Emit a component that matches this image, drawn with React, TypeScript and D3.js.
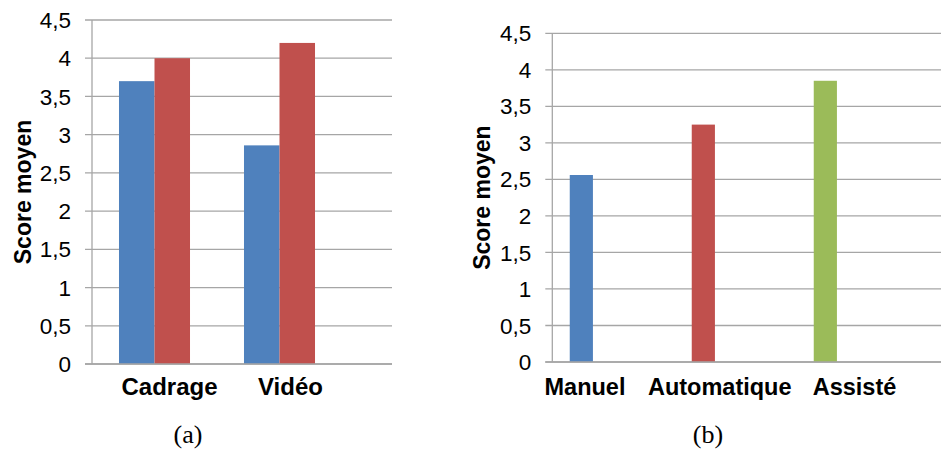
import React from "react";
import * as d3 from "d3";

const catsA = ["Cadrage", "Vidéo"];
const seriesA = ["s1", "s2"];
const valsA1 = [3.7, 2.86];
const valsA2 = [4.0, 4.2];
const colorsA = ["#4F81BD", "#C0504D"];

const catsB = ["Manuel", "Automatique", "Assisté"];
const valsB = [2.56, 3.25, 3.85];
const colorsB = ["#4F81BD", "#C0504D", "#9BBB59"];

const yTicks = [0, 0.5, 1, 1.5, 2, 2.5, 3, 3.5, 4, 4.5];
const yTickLabels = ["0", "0,5", "1", "1,5", "2", "2,5", "3", "3,5", "4", "4,5"];
const yTitle = "Score moyen";
const captions = ["(a)", "(b)"];

const GRID = "#A6A6A6";
const SANS = "'Liberation Sans', Arial, sans-serif";
const SERIF = "'Liberation Serif', 'DejaVu Serif', serif";

function YAxis({ y, x0, x1 }: { y: d3.ScaleLinear<number, number>; x0: number; x1: number }) {
  return (
    <g>
      {yTicks.map((t, i) => (
        <g key={i}>
          <line x1={x0 - 7} x2={x1} y1={y(t)} y2={y(t)} stroke={GRID} strokeWidth={1.3} />
          <text
            x={x0 - 21}
            y={y(t)}
            dy="0.36em"
            textAnchor="end"
            fontFamily={SANS}
            fontSize={22.5}
            fill="#000"
          >
            {yTickLabels[i]}
          </text>
        </g>
      ))}
      <line x1={x0} x2={x0} y1={y(4.5)} y2={y(0)} stroke={GRID} strokeWidth={1.3} />
    </g>
  );
}

export default function App() {
  // Chart (a)
  const yA = d3.scaleLinear().domain([0, 4.5]).range([364, 20]);
  const xA = d3.scaleBand<string>().domain(catsA).range([92, 342]).padding(0);
  const xA1 = d3.scaleBand<string>().domain(seriesA).range([0, xA.bandwidth()]).paddingOuter(0.76).paddingInner(0);
  const labA = d3.scalePoint<string>().domain(catsA).range([169.5, 290.5]);
  const valsA = [valsA1, valsA2];

  // Chart (b)
  const yB = d3.scaleLinear().domain([0, 4.5]).range([362, 33.3]);
  const xB = d3.scaleBand<string>().domain(catsB).range([552.3, 918.3]).padding(0);
  const labB = d3.scalePoint<string>().domain(catsB).range([585, 854.5]);
  const barOff = xB.bandwidth() * 0.143;
  const barW = xB.bandwidth() * 0.19;

  return (
    <svg width={941} height={451} style={{ position: "absolute", left: 0, top: 0, background: "#fff" }}>
      <rect width={941} height={451} fill="#fff" />
      {/* Chart (a) */}
      <YAxis y={yA} x0={92} x1={392} />
      {seriesA.map((s, si) =>
        catsA.map((c, ci) => (
          <rect
            key={s + c}
            x={(xA(c) as number) + (xA1(s) as number)}
            y={yA(valsA[si][ci])}
            width={xA1.bandwidth()}
            height={yA(0) - yA(valsA[si][ci])}
            fill={colorsA[si]}
          />
        ))
      )}
      <line x1={92 - 7} x2={392} y1={yA(0)} y2={yA(0)} stroke={GRID} strokeWidth={1.3} />
      {catsA.map((c) => (
        <text key={c} x={labA(c)} y={395} textAnchor="middle" fontFamily={SANS} fontWeight="bold" fontSize={24} fill="#000">
          {c}
        </text>
      ))}
      <text
        transform={`translate(31,${(yA(0) + yA(4.5)) / 2}) rotate(-90)`}
        textAnchor="middle"
        fontFamily={SANS}
        fontWeight="bold"
        fontSize={23}
        fill="#000"
      >
        {yTitle}
      </text>
      <text x={188} y={443} textAnchor="middle" fontFamily={SERIF} fontSize={26} fill="#000">
        {captions[0]}
      </text>

      {/* Chart (b) */}
      <YAxis y={yB} x0={552.3} x1={941} />
      {catsB.map((c, i) => (
        <rect
          key={c}
          x={(xB(c) as number) + barOff}
          y={yB(valsB[i])}
          width={barW}
          height={yB(0) - yB(valsB[i])}
          fill={colorsB[i]}
        />
      ))}
      <line x1={552.3 - 7} x2={941} y1={yB(0)} y2={yB(0)} stroke={GRID} strokeWidth={1.3} />
      {catsB.map((c) => (
        <text key={c} x={labB(c)} y={395} textAnchor="middle" fontFamily={SANS} fontWeight="bold" fontSize={23.5} fill="#000">
          {c}
        </text>
      ))}
      <text
        transform={`translate(490,${(yB(0) + yB(4.5)) / 2}) rotate(-90)`}
        textAnchor="middle"
        fontFamily={SANS}
        fontWeight="bold"
        fontSize={23}
        fill="#000"
      >
        {yTitle}
      </text>
      <text x={708} y={443} textAnchor="middle" fontFamily={SERIF} fontSize={26} fill="#000">
        {captions[1]}
      </text>
    </svg>
  );
}
